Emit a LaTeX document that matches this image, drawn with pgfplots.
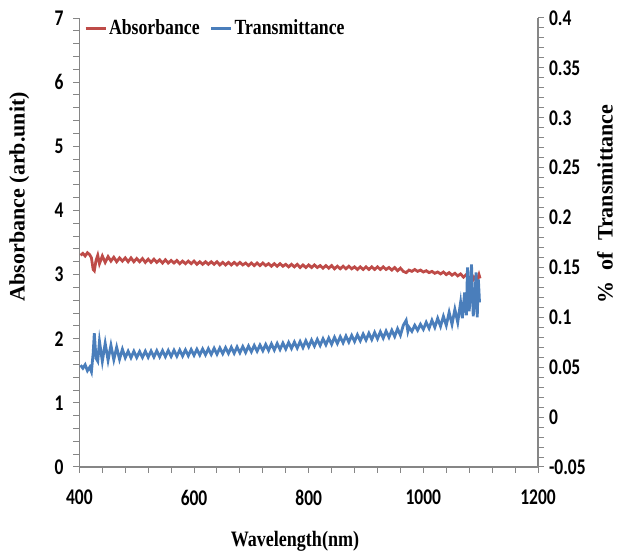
\documentclass[border=0pt]{standalone}
\usepackage{pgfplots}
\pgfplotsset{compat=1.18}
\usepackage{graphicx}
\usepackage{fontspec}
\setmainfont{Liberation Serif}
\newfontfamily\carl{Carlito}
\usetikzlibrary{calc}
\definecolor{absred}{HTML}{BE4B48}
\definecolor{trblue}{HTML}{4A7EBB}
\definecolor{axgrey}{HTML}{868686}
\newcommand\tkl[1]{\scalebox{0.78}[1]{#1}}
\newcommand\lgd[1]{\scalebox{0.82}[1]{#1}}
\begin{document}
\begin{tikzpicture}
\pgfplotsset{
  common/.style={
    scale only axis, width=229.3pt, height=224.5pt,
    xmin=400, xmax=1200,
    tick align=outside,
    major tick length=3pt, minor tick length=3pt,
    every tick/.style={axgrey, line width=0.5pt},
    minor tick num=4,
    axis line style={axgrey, line width=0.6pt, -},
    ticklabel style={font=\fontsize{11.2}{12}\selectfont\bfseries\carl},
  }
}
\begin{axis}[common, name=a,
  axis x line*=bottom, axis y line*=left,
  ymin=0, ymax=7,
  xtick={400,600,800,1000,1200},
  xticklabels={\tkl{400},\tkl{600},\tkl{800},\tkl{1000},\tkl{1200}},
  xticklabel style={yshift=-5pt},
  ytick={0,1,2,3,4,5,6,7},
  yticklabels={\tkl{0},\tkl{1},\tkl{2},\tkl{3},\tkl{4},\tkl{5},\tkl{6},\tkl{7}},
  yticklabel style={xshift=-1.4pt},
  every axis x label/.style={at={(axis description cs:0.47,-0.165)}, anchor=center, font=\fontsize{11}{12}\selectfont\bfseries},
  every axis y label/.style={at={(axis description cs:-0.131,0.602)}, rotate=90, anchor=center, font=\fontsize{11}{12}\selectfont\bfseries},
  xlabel={\lgd{Wavelength(nm)}},
  ylabel={Absorbance (arb.unit)},
  legend style={at={(axis description cs:0.005,1.01)}, anchor=north west, draw=none, fill=none,
    font=\fontsize{10.8}{12}\selectfont\bfseries, inner xsep=1pt, inner ysep=1pt,
    nodes={inner xsep=1pt},
    /tikz/every even column/.append style={column sep=4pt}},
  legend columns=2,
  legend image code/.code={\draw[#1, line width=1.5pt] (0pt,0pt) -- (10pt,0pt);},
]
\addplot[absred, line width=1.4pt] coordinates {
(402,3.30)(406,3.33)(410,3.29)(414,3.34)(418,3.31)(421,3.26)(424,3.08)(426,3.06)(429,3.22)(432,3.30)
(435,3.17)(440,3.29)(445,3.19)(450,3.28)(455,3.21)(460,3.27)(465,3.20)(470,3.26)(475,3.21)
(480,3.26)(485,3.20)(490,3.26)(495,3.20)(500,3.25)(505,3.20)(510,3.25)(515,3.19)(520,3.24)(525,3.19)
(530,3.24)(535,3.19)(540,3.23)(545,3.18)(550,3.23)(555,3.18)(560,3.22)(565,3.18)(570,3.22)(575,3.17)
(580,3.21)(585,3.17)(590,3.21)(595,3.17)(600,3.21)(605,3.16)(610,3.20)(615,3.16)(620,3.20)(625,3.16)
(630,3.20)(635,3.16)(640,3.20)(645,3.15)(650,3.19)(655,3.15)(660,3.19)(665,3.15)(670,3.19)(675,3.15)
(680,3.19)(685,3.15)(690,3.18)(695,3.14)(700,3.18)(705,3.14)(710,3.18)(715,3.14)(720,3.18)(725,3.14)
(730,3.17)(735,3.13)(740,3.17)(745,3.13)(750,3.17)(755,3.13)(760,3.16)(765,3.12)(770,3.16)(775,3.12)
(780,3.16)(785,3.11)(790,3.15)(795,3.11)(800,3.15)(805,3.11)(810,3.15)(815,3.11)(820,3.14)(825,3.10)
(830,3.14)(835,3.10)(840,3.14)(845,3.09)(850,3.13)(855,3.09)(860,3.13)(865,3.09)(870,3.13)(875,3.09)
(880,3.12)(885,3.08)(890,3.12)(895,3.08)(900,3.12)(905,3.08)(910,3.12)(915,3.08)(920,3.12)(925,3.08)
(930,3.12)(935,3.08)(940,3.11)(945,3.07)(950,3.11)(955,3.06)(960,3.10)(965,3.05)(970,3.03)(975,3.07)(980,3.05)
(985,3.08)(990,3.05)(995,3.07)(1000,3.04)(1005,3.06)(1010,3.03)(1015,3.05)(1020,3.02)(1025,3.04)(1030,3.01)
(1035,3.04)(1040,3.00)(1045,3.03)(1050,2.99)(1055,3.02)(1060,2.98)(1065,3.01)(1070,2.96)(1075,3.00)(1080,2.94)
(1085,2.99)(1088,2.93)(1091,2.97)(1094,2.92)(1097,3.00)(1099,2.94)
};
\addlegendentry{\lgd{Absorbance}}
\addlegendimage{trblue}
\addlegendentry{\lgd{Transmittance}}
\end{axis}
\begin{axis}[common,
  axis x line=none, axis y line*=right,
  ymin=-0.05, ymax=0.4,
  ytick={-0.05,0,0.05,0.1,0.15,0.2,0.25,0.3,0.35,0.4},
  yticklabels={\tkl{-0.05},\tkl{0},\tkl{0.05},\tkl{0.1},\tkl{0.15},\tkl{0.2},\tkl{0.25},\tkl{0.3},\tkl{0.35},\tkl{0.4}},
  yticklabel style={xshift=-1pt},
  every axis y label/.style={at={(axis description cs:1.146,0.586)}, rotate=90, anchor=center, font=\fontsize{11}{12}\selectfont\bfseries},
  ylabel={\%~~of~~Transmittance},
]
\addplot[trblue, line width=1.4pt] coordinates {
(402,0.0520)(406,0.0490)(410,0.0525)(414,0.0465)(418,0.0500)(421,0.0455)(424,0.0640)(426,0.0840)(429,0.0590)(432,0.0560)
(435,0.0760)(440,0.0560)(445,0.0740)(450,0.0570)(455,0.0720)(460,0.0575)(465,0.0700)(470,0.0580)(475,0.0680)
(480,0.0595)(485,0.0660)(490,0.0595)(495,0.0660)(500,0.0597)(505,0.0657)(510,0.0598)(515,0.0660)(520,0.0600)(525,0.0662)
(530,0.0602)(535,0.0665)(540,0.0604)(545,0.0666)(550,0.0606)(555,0.0668)(560,0.0608)(565,0.0670)(570,0.0610)(575,0.0672)
(580,0.0612)(585,0.0674)(590,0.0615)(595,0.0677)(600,0.0620)(605,0.0680)(610,0.0622)(615,0.0683)(620,0.0625)(625,0.0686)
(630,0.0628)(635,0.0690)(640,0.0630)(645,0.0693)(650,0.0635)(655,0.0696)(660,0.0638)(665,0.0700)(670,0.0640)(675,0.0703)
(680,0.0645)(685,0.0707)(690,0.0648)(695,0.0712)(700,0.0655)(705,0.0718)(710,0.0660)(715,0.0722)(720,0.0665)(725,0.0728)
(730,0.0668)(735,0.0734)(740,0.0672)(745,0.0738)(750,0.0678)(755,0.0742)(760,0.0682)(765,0.0748)(770,0.0688)(775,0.0752)
(780,0.0692)(785,0.0757)(790,0.0697)(795,0.0765)(800,0.0705)(805,0.0772)(810,0.0712)(815,0.0778)(820,0.0718)(825,0.0785)
(830,0.0725)(835,0.0792)(840,0.0730)(845,0.0800)(850,0.0738)(855,0.0805)(860,0.0745)(865,0.0812)(870,0.0752)(875,0.0818)
(880,0.0758)(885,0.0825)(890,0.0765)(895,0.0832)(900,0.0772)(905,0.0840)(910,0.0778)(915,0.0848)(920,0.0785)(925,0.0855)
(930,0.0792)(935,0.0862)(940,0.0800)(945,0.0870)(950,0.0808)(955,0.0885)(960,0.0820)(965,0.0920)(970,0.0970)(973,0.0860)(975,0.0900)
(980,0.0860)(985,0.0920)(990,0.0870)(995,0.0930)(1000,0.0880)(1005,0.0950)(1010,0.0890)(1015,0.0970)(1020,0.0900)(1025,0.0990)
(1030,0.0910)(1035,0.1010)(1040,0.0920)(1045,0.1050)(1050,0.0930)(1055,0.1080)(1060,0.0950)(1065,0.1150)(1068,0.0990)(1072,0.1250)
(1075,0.1020)(1077,0.1500)(1080,0.1060)(1084,0.1530)(1087,0.1010)(1090,0.1200)(1092,0.1450)(1094,0.1000)(1096,0.1380)(1098,0.1150)
};
\end{axis}
\pgfresetboundingbox
\path[use as bounding box] ($(a.south west)+(-39.7pt,-42pt)$) rectangle ($(a.north east)+(41.5pt,9pt)$);
\end{tikzpicture}
\end{document}
